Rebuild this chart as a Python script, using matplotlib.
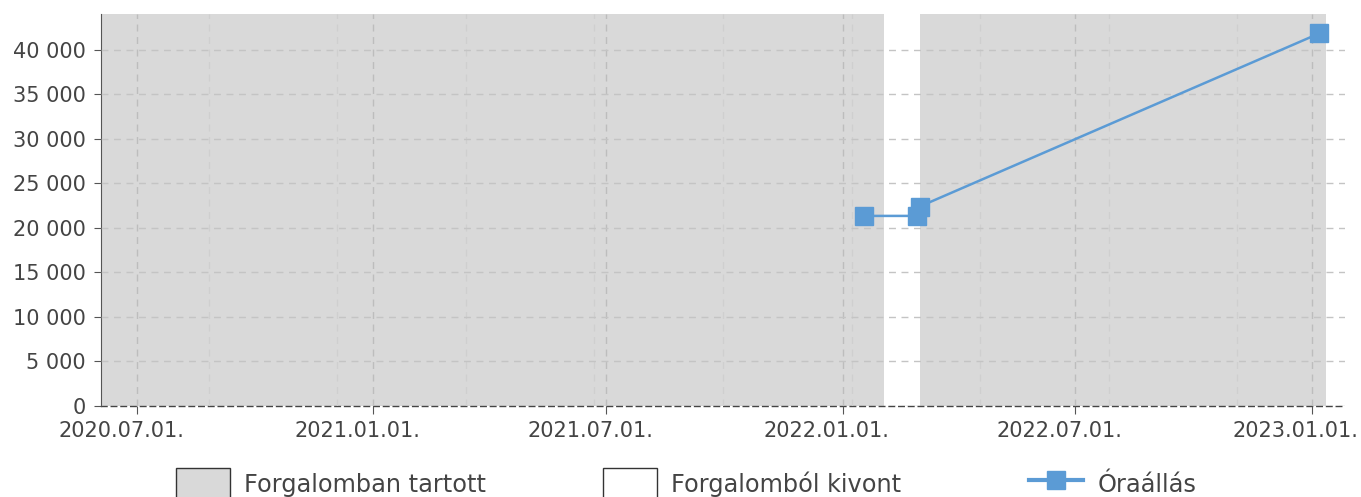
import matplotlib
matplotlib.use("Agg")
import matplotlib.pyplot as plt
import matplotlib.ticker as mticker
import matplotlib.transforms as mtransforms
from matplotlib.patches import Patch
from matplotlib.lines import Line2D
import pandas as pd

# ---- data ----
reading_dates = ["2022-01-18", "2022-02-28", "2022-03-02", "2023-01-07"]
reading_values = [21350, 21350, 22400, 41850]

period_starts = ["2020-05-01", "2022-02-02", "2022-03-02"]
period_ends = ["2022-02-02", "2022-03-02", "2023-01-12"]
period_status = ["in", "out", "in"]

x_limits = ["2020-06-03", "2023-01-27"]
x_tick_dates = ["2020-07-01", "2021-01-01", "2021-07-01", "2022-01-01", "2022-07-01", "2023-01-01"]
x_tick_labels = ["2020.07.01.", "2021.01.01.", "2021.07.01.", "2022.01.01.", "2022.07.01.", "2023.01.01."]
y_ticks = [0, 5000, 10000, 15000, 20000, 25000, 30000, 35000, 40000]

legend_labels = ["Forgalomban tartott", "Forgalomból kivont", "Óraállás"]

# ---- style ----
GRAY = "#d9d9d9"
BLUE = "#5b9bd5"
TXT = "#444444"
plt.rcParams["font.family"] = ["DejaVu Sans"]
plt.rcParams["font.size"] = 15

fig = plt.figure(figsize=(13.61, 4.97), dpi=100)
ax = fig.add_axes([101 / 1361, 1 - 406 / 497, (1345 - 101) / 1361, (406 - 14) / 497])

for s, e, st in zip(period_starts, period_ends, period_status):
    ax.axvspan(pd.Timestamp(s), pd.Timestamp(e), color=GRAY if st == "in" else "white",
               lw=0, zorder=0)

xd = [pd.Timestamp(d) for d in reading_dates]
ax.plot(xd, reading_values, color=BLUE, lw=1.8, marker="s", markersize=12.5,
        markeredgecolor=BLUE, zorder=5, clip_on=False)

ax.set_xlim(pd.Timestamp(x_limits[0]), pd.Timestamp(x_limits[1]))
ax.set_ylim(0, max(reading_values) * 1.052)

ax.set_xticks([pd.Timestamp(d) for d in x_tick_dates])
ax.set_xticklabels(x_tick_labels)
ax.xaxis.set_minor_locator(mticker.MultipleLocator(100))
ax.set_yticks(y_ticks)
ax.yaxis.set_major_formatter(mticker.FuncFormatter(lambda v, p: f"{int(v):,}".replace(",", " ")))

ax.grid(True, which="major", axis="x", color="#bdbdbd", linestyle=(0, (5, 4)), lw=1)
ax.grid(True, which="minor", axis="x", color="#cfcfcf", linestyle=(0, (5, 4)), lw=1)
ax.grid(True, which="major", axis="y", color="#c4c4c4", linestyle=(0, (5, 4)), lw=1)
ax.set_axisbelow(False)
for gl in ax.get_xgridlines() + ax.get_ygridlines():
    gl.set_zorder(1)

for sp in ["top", "right"]:
    ax.spines[sp].set_visible(False)
ax.spines["left"].set_color("#555555")
ax.spines["bottom"].set_color("#444444")
ax.spines["bottom"].set_linestyle((0, (4, 3)))
ax.spines["bottom"].set_linewidth(1)
ax.tick_params(axis="both", which="major", length=5, color="#555555", labelcolor=TXT, labelsize=15)
ax.tick_params(axis="x", which="major", length=6, pad=5)
ax.tick_params(axis="y", which="major", pad=6)
ax.tick_params(axis="x", which="minor", length=0)

# x tick labels sit slightly left of their ticks in the reference
shift = mtransforms.ScaledTranslation(-16 / 100, 0, fig.dpi_scale_trans)
for lab in ax.get_xticklabels():
    lab.set_transform(lab.get_transform() + shift)

# legend: three fixed-width columns
handles = [
    Patch(facecolor=GRAY, edgecolor="#333333", lw=1),
    Patch(facecolor="white", edgecolor="#333333", lw=1),
    Line2D([0], [0], color=BLUE, lw=3, marker="s", markersize=13),
]
x_starts = [176, 603, 1029]
for h, lab, xs in zip(handles, legend_labels, x_starts):
    leg = fig.legend([h], [lab], loc="upper left", bbox_to_anchor=(xs / 1361, 1 - 468 / 497),
                     frameon=False, borderpad=0, borderaxespad=0, handlelength=2.25,
                     handleheight=1.65, handletextpad=0.6, fontsize=17.3)
    for t in leg.get_texts():
        t.set_color(TXT)

fig.savefig("out.png", dpi=100)
